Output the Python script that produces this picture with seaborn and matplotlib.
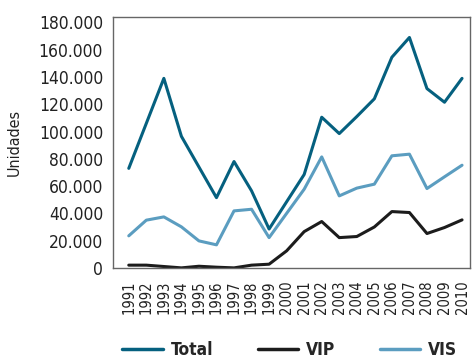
import matplotlib
matplotlib.use("Agg")
import matplotlib.pyplot as plt
import matplotlib.ticker as mticker
import numpy as np
import pandas as pd
import seaborn as sns

years = list(range(1991, 2011))
total = [73000, 106000, 139000, 96500, 74000, 51500, 78000, 56500, 28500, 48500,
         68500, 110500, 98500, 111000, 124000, 154500, 169000, 131500, 121500, 139000]
vip = [2000, 2000, 1000, 0, 1200, 500, 0, 2000, 2700, 12500,
       26600, 34000, 22200, 23000, 30000, 41300, 40600, 25200, 29600, 35200]
vis = [23500, 35000, 37400, 30100, 19800, 16900, 41800, 43000, 22200, 40000,
       57700, 81400, 52800, 58500, 61400, 82200, 83400, 58200, 66800, 75300]
series_names = ["Total", "VIP", "VIS"]
colors = ["#05607f", "#1c1c1c", "#5b9dc0"]

df = pd.DataFrame({"Año": years, "Total": total, "VIP": vip, "VIS": vis})
long = df.melt(id_vars="Año", var_name="Serie", value_name="Unidades")

sns.set_theme(style="white")
plt.rcParams["font.family"] = ["DejaVu Sans"]
plt.rcParams["font.stretch"] = "condensed"

fig = plt.figure(figsize=(4.72, 3.62), dpi=100)
ax = fig.add_axes([0.239, 0.26, 0.757, 0.693])

sns.lineplot(data=long, x="Año", y="Unidades", hue="Serie", hue_order=series_names,
             palette=colors, linewidth=2.2, ax=ax, legend=False)

ax.set_xlim(1990.09, 2010.46)
ax.set_ylim(0, 184000)
ax.set_yticks(np.arange(0, 180001, 20000))
ax.yaxis.set_major_formatter(mticker.FuncFormatter(lambda v, p: f"{int(v):,}".replace(",", ".")))
ax.set_xticks(years)
ax.set_xticklabels([str(y) for y in years], rotation=90, fontsize=10.5, color="#222222")
ax.tick_params(axis="y", labelsize=12.5, labelcolor="#222222", direction="in",
               length=5, width=0.8, color="#555555", pad=7)
ax.tick_params(axis="x", length=0, pad=9)
ax.set_xlabel("")
ax.set_ylabel("Unidades", fontsize=11.5, color="#222222", labelpad=12)
for s in ax.spines.values():
    s.set_color("#666666")
    s.set_linewidth(1.0)

handles = [plt.Line2D([], [], color=c, linewidth=2.5) for c in colors]
fig.legend(handles, series_names, loc="lower center", bbox_to_anchor=(0.614, -0.035),
           ncol=3, frameon=False, handlelength=2.35, handletextpad=0.45, columnspacing=2.55,
           prop={"size": 12.5, "weight": "bold", "stretch": "condensed"})

fig.savefig("out.png", dpi=100)
